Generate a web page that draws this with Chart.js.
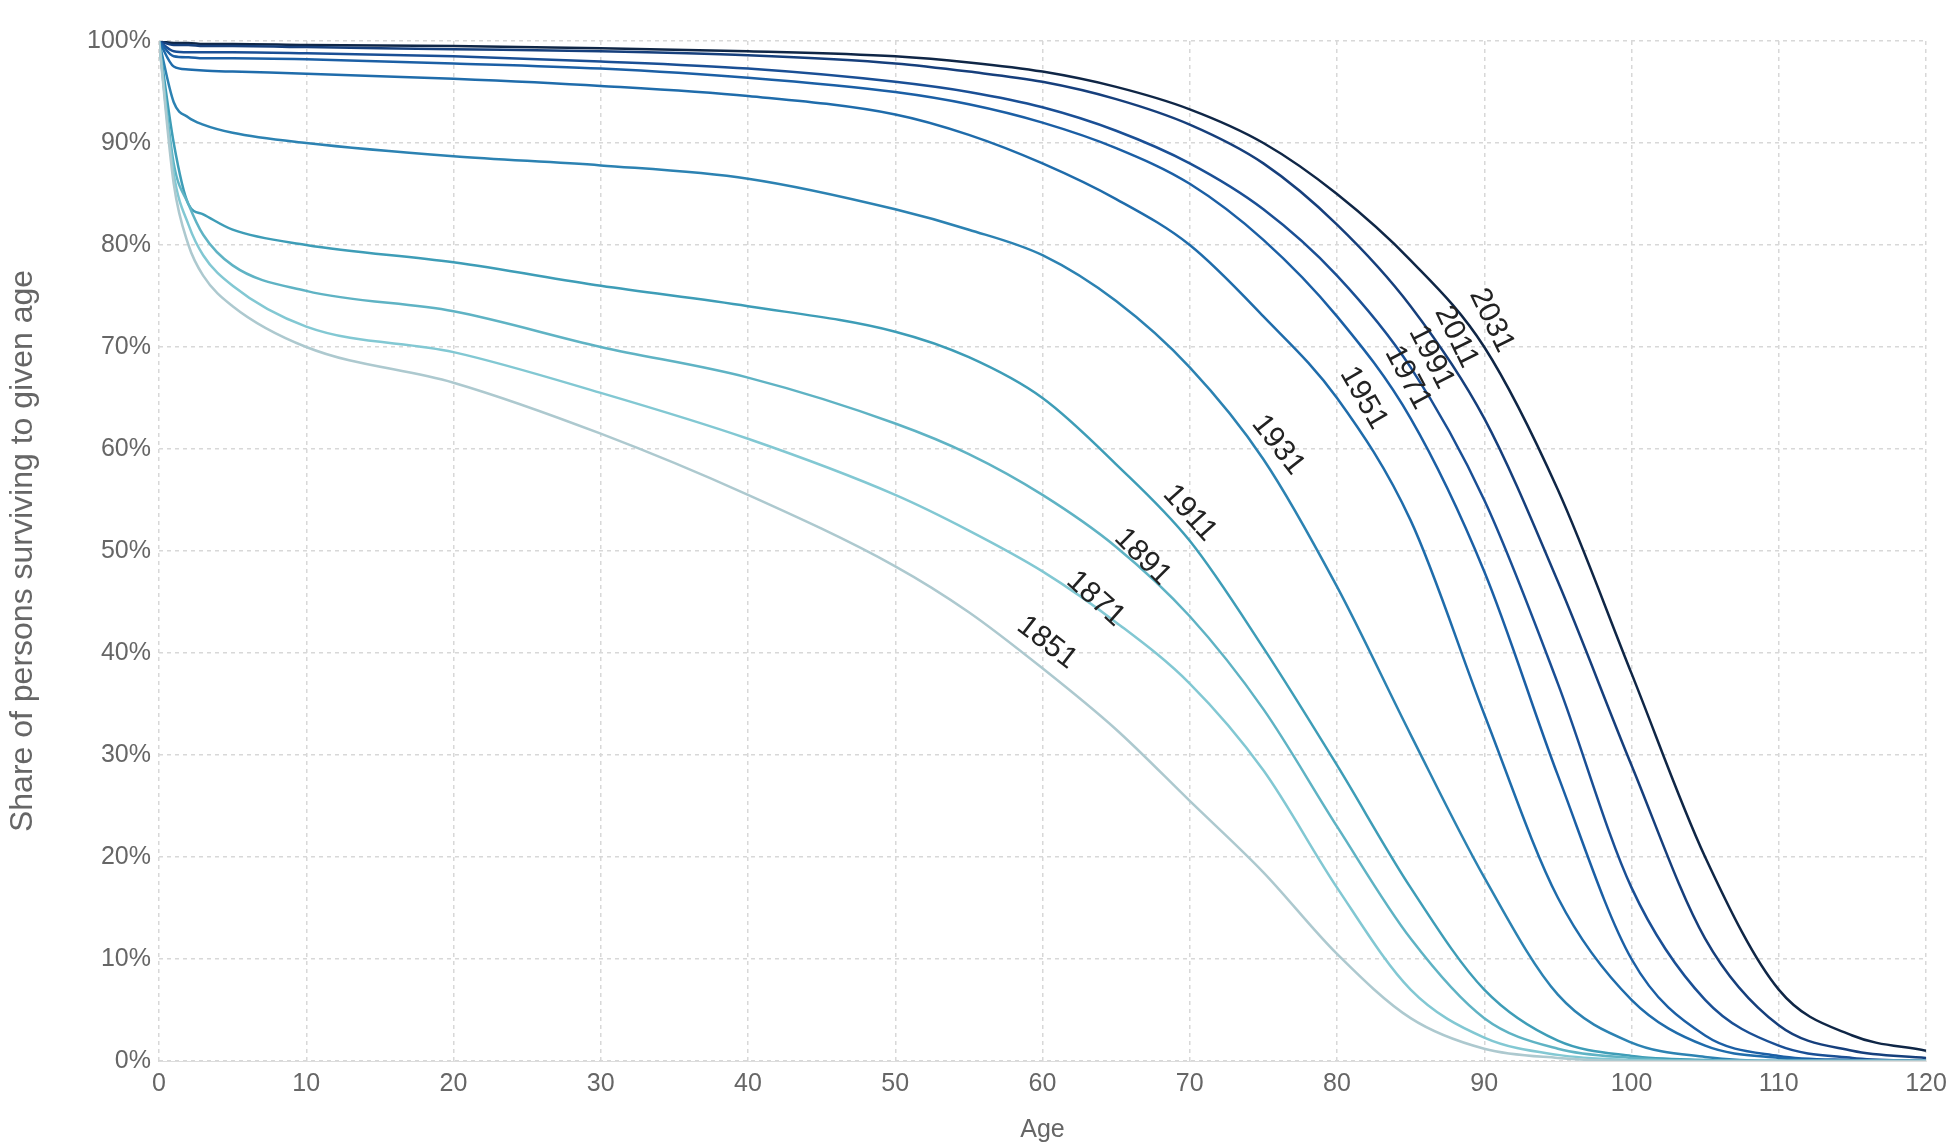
<!DOCTYPE html>
<html>
<head>
<meta charset="utf-8">
<script src="https://cdn.jsdelivr.net/npm/chart.js@4"></script>
<style>
  html, body { margin: 0; padding: 0; background: #fff; }
  #wrap { width: 1955px; height: 1145px; }
</style>
</head>
<body>
<div id="wrap"><canvas id="chart"></canvas></div>
<script>
const ages = [0, 1, 2, 3, 5, 10, 20, 30, 40, 50, 55, 60, 65, 70, 75, 80, 85, 90, 95, 100, 105, 110, 115, 120];

const s1851 = [100, 86, 80, 77, 74, 70, 66.5, 61.5, 55.5, 48.5, 44, 38.5, 32.5, 25.5, 18.5, 10.5, 4.2, 1.2, 0.3, 0, 0, 0, 0, 0];
const s1871 = [100, 87, 82, 79, 76, 72, 69.5, 65.5, 61, 55.5, 52, 48, 43, 37, 28.5, 17, 7, 2.3, 0.6, 0.1, 0, 0, 0, 0];
const s1891 = [100, 88, 84, 81, 78, 75.5, 73.5, 70, 67, 62.5, 59.5, 55.5, 50.4, 43.6, 34.5, 23, 12, 4.2, 1.2, 0.3, 0, 0, 0, 0];
const s1911 = [100, 90, 84, 83, 81.5, 80, 78.3, 76, 74, 71.5, 69, 65, 58.5, 51, 40.5, 29, 17, 7, 2, 0.5, 0.1, 0, 0, 0];
const s1931 = [100, 94, 92.5, 91.8, 91, 90, 88.7, 87.8, 86.5, 83.5, 81.5, 79, 74.5, 68, 59, 46.5, 32, 18, 6.5, 1.8, 0.4, 0, 0, 0];
const s1951 = [100, 97.5, 97.2, 97.1, 97, 96.8, 96.3, 95.6, 94.6, 92.8, 90.8, 88, 84.5, 80, 73, 65, 53, 34, 16, 6, 1.5, 0.3, 0, 0];
const s1971 = [100, 98.5, 98.4, 98.3, 98.3, 98.2, 97.8, 97.3, 96.4, 95, 93.8, 92, 89.5, 86, 80.5, 73, 63, 48, 28, 10, 2.5, 0.5, 0.1, 0];
const s1991 = [100, 99, 98.9, 98.9, 98.9, 98.8, 98.5, 98, 97.3, 96, 95, 93.5, 91.2, 88, 83.5, 77, 68, 55, 37, 17, 6, 1.5, 0.3, 0];
const s2011 = [100, 99.6, 99.6, 99.5, 99.5, 99.4, 99.2, 99, 98.6, 97.8, 97, 96, 94.3, 91.8, 88, 82, 74, 63, 47, 29, 12, 3.5, 1, 0.3];
const s2031 = [100, 99.8, 99.8, 99.7, 99.7, 99.6, 99.5, 99.3, 99, 98.5, 97.9, 97, 95.5, 93.3, 90, 85, 78.5, 70, 56, 38, 20, 7, 2.5, 1];

const years = ['1851', '1871', '1891', '1911', '1931', '1951', '1971', '1991', '2011', '2031'];
const seriesList = [s1851, s1871, s1891, s1911, s1931, s1951, s1971, s1991, s2011, s2031];
const colors = ['#adc9cf', '#82c8d3', '#5fb3c4', '#3e9db7', '#2c82b2', '#1f6cab', '#1b5fa5', '#1a4f95', '#163f7c', '#0f2646'];

// where each curve label sits (age, percent) and its rotation in degrees
const labelAge = [60.3, 63.6, 66.8, 70, 76, 81.8, 84.8, 86.4, 88.1, 90.5];
const labelPct = [41, 45.3, 49.4, 53.7, 60.4, 65, 67, 69, 71, 72.6];
const labelRot = [38, 42, 45, 48, 52, 60, 62, 63, 64, 64];

const yTicks = [0, 10, 20, 30, 40, 50, 60, 70, 80, 90, 100];

const datasets = seriesList.map((s, i) => ({
  label: years[i],
  data: ages.map((a, j) => ({ x: a, y: s[j] })),
  borderColor: colors[i],
  borderWidth: 2.5,
  pointRadius: 0,
  fill: false,
  cubicInterpolationMode: 'monotone'
}));

const curveLabels = {
  id: 'curveLabels',
  afterDatasetsDraw(chart) {
    const { ctx, scales } = chart;
    ctx.save();
    ctx.font = '30px "Liberation Sans", Arial, sans-serif';
    ctx.fillStyle = '#222';
    ctx.textAlign = 'center';
    ctx.textBaseline = 'middle';
    years.forEach((y, i) => {
      const px = scales.x.getPixelForValue(labelAge[i]);
      const py = scales.y.getPixelForValue(labelPct[i]);
      ctx.save();
      ctx.translate(px, py);
      ctx.rotate(labelRot[i] * Math.PI / 180);
      ctx.fillText(y, 0, 0);
      ctx.restore();
    });
    ctx.restore();
  }
};

new Chart(document.getElementById('chart'), {
  type: 'line',
  data: { datasets },
  plugins: [curveLabels],
  options: {
    responsive: true,
    maintainAspectRatio: false,
    animation: false,
    layout: { padding: { top: 41, right: 29, left: 0, bottom: 0 } },
    plugins: { legend: { display: false }, tooltip: { enabled: false } },
    scales: {
      x: {
        type: 'linear',
        min: 0, max: 120,
        ticks: { stepSize: 10, color: '#666', font: { size: 25, family: '"Liberation Sans", Arial' }, padding: 8 },
        grid: { color: '#d8d8d8', tickLength: 0, lineWidth: 1.5 },
        border: { color: '#ddd', dash: [4, 4] },
        title: { display: true, text: 'Age', color: '#666', font: { size: 25, family: '"Liberation Sans", Arial' }, padding: { top: -4, bottom: 0 } },
        afterFit(s) { s.height = 84; }
      },
      y: {
        min: 0, max: 100,
        afterBuildTicks(s) { s.ticks = yTicks.map(v => ({ value: v })); },
        ticks: { color: '#666', font: { size: 25, family: '"Liberation Sans", Arial' }, padding: 8, callback: v => v + '%' },
        grid: { color: '#d8d8d8', tickLength: 0, lineWidth: 1.5 },
        border: { display: false, dash: [4, 4] },
        title: { display: true, text: 'Share of persons surviving to given age', color: '#666', font: { size: 32, family: '"Liberation Sans", Arial' }, padding: 4 },
        afterFit(s) { s.width = 159; }
      }
    }
  }
});
</script>
</body>
</html>
